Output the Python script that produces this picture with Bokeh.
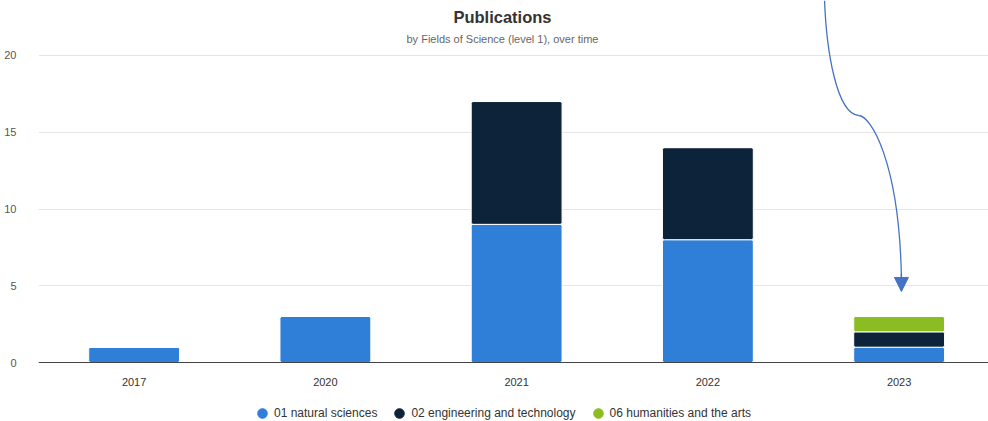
from bokeh.plotting import figure
from bokeh.models import (ColumnDataSource, Range1d, FixedTicker, Label, Legend, LegendItem,
                          Arrow, NormalHead)
from bokeh.embed import file_html
from bokeh.resources import INLINE

# ---- data ----
years = ["2017", "2020", "2021", "2022", "2023"]
natural_sciences = [1, 3, 9, 8, 1]
engineering_technology = [0, 0, 8, 6, 1]
humanities_arts = [0, 0, 0, 0, 1]
series_names = ["01 natural sciences", "02 engineering and technology", "06 humanities and the arts"]
series_colors = ["#2f7ed8", "#0d233a", "#8bbc21"]
y_ticks = [0, 5, 10, 15, 20]

FONT = "Liberation Sans"
xs = list(range(len(years)))
src = ColumnDataSource(dict(x=xs, nat=natural_sciences, eng=engineering_technology, hum=humanities_arts))

p = figure(width=988, height=421, output_backend="svg", toolbar_location=None,
           x_range=Range1d(-0.5, -0.5 + 950 / 191.25), y_range=Range1d(-3.84, 23.58),
           min_border_left=38, min_border_right=0, min_border_top=0, min_border_bottom=0)
p.outline_line_color = None
p.background_fill_color = "white"
p.border_fill_color = "white"

p.vbar_stack(["nat", "eng", "hum"], x="x", width=0.475, color=series_colors, source=src,
             line_color="white", line_width=1, border_radius=2)

# axes
p.xaxis.fixed_location = 0
p.xaxis.ticker = FixedTicker(ticks=xs)
p.xaxis.major_label_overrides = {i: y for i, y in enumerate(years)}
p.xaxis.axis_line_color = "#444444"
p.xaxis.major_tick_line_color = None
p.xaxis.minor_tick_line_color = None
p.xaxis.major_label_standoff = 9
p.xaxis.major_label_text_font = FONT
p.xaxis.major_label_text_font_size = "11px"
p.xaxis.major_label_text_color = "#333333"

p.yaxis.ticker = FixedTicker(ticks=y_ticks)
p.yaxis.axis_line_color = None
p.yaxis.major_tick_line_color = None
p.yaxis.minor_tick_line_color = None
p.yaxis.major_label_standoff = 16
p.yaxis.major_label_text_font = FONT
p.yaxis.major_label_text_font_size = "11px"
p.yaxis.major_label_text_color = "#555555"

p.xgrid.grid_line_color = None
p.ygrid.ticker = FixedTicker(ticks=y_ticks)
p.ygrid.grid_line_color = "#e6e6e6"

# title & subtitle
p.add_layout(Label(x=1.926, y=22.5, text="Publications", text_align="center", text_baseline="middle",
                   text_font=FONT, text_font_size="16.5px", text_font_style="bold", text_color="#333333"))
p.add_layout(Label(x=1.926, y=21.1, text="by Fields of Science (level 1), over time", text_align="center",
                   text_baseline="middle", text_font=FONT, text_font_size="11px", text_color="#666666"))

# curved arrow annotation
ac = "#4472c4"
p.bezier(x0=[3.610, 3.788], y0=[23.58, 16.09],
         cx0=[3.620, 3.850], cy0=[20.32, 16.09],
         cx1=[3.672, 4.000], cy1=[16.22, 13.16],
         x1=[3.788, 4.012], y1=[16.09, 5.54],
         line_color=ac, line_width=1.3)
p.add_layout(Arrow(end=NormalHead(size=14, fill_color=ac, line_color=ac, line_width=1),
                   x_start=4.012, y_start=5.8, x_end=4.012, y_end=4.63,
                   line_color=ac, line_width=1.3))

# legend (dummy off-range points so the legend shows circles)
items = []
for name, col in zip(series_names, series_colors):
    r = p.scatter(x=[-10], y=[-10], marker="circle", size=10, fill_color=col, line_color=col)
    items.append(LegendItem(label=name, renderers=[r]))
legend = Legend(items=items, orientation="horizontal", location=(212, -4),
                glyph_width=24, glyph_height=24, label_height=24, label_standoff=0, spacing=10,
                padding=0, margin=0, border_line_color=None, background_fill_alpha=0,
                label_text_font=FONT, label_text_font_size="12px", label_text_color="#333333",
                label_text_baseline="middle")
p.add_layout(legend)

open("out.html", "w").write(file_html(p, INLINE))
